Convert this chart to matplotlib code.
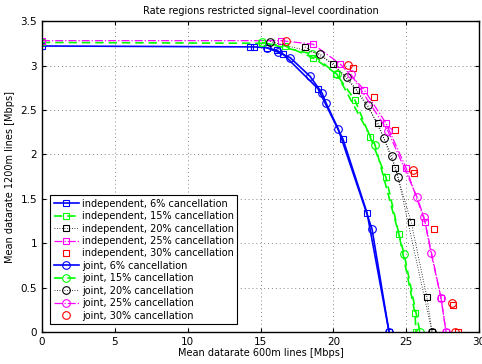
import matplotlib
matplotlib.use("Agg")
import matplotlib.pyplot as plt

# independent coordination (squares)
ind6_x = [0, 14.28, 14.55, 15.44, 16.13, 16.54, 18.94, 20.66, 22.31, 23.82]
ind6_y = [3.22, 3.21, 3.21, 3.20, 3.17, 3.13, 2.74, 2.17, 1.34, 0]
ind15_x = [0, 15.10, 16.68, 18.60, 20.18, 21.48, 22.51, 23.61, 24.50, 25.60, 25.67]
ind15_y = [3.26, 3.25, 3.22, 3.09, 2.91, 2.61, 2.20, 1.74, 1.10, 0.21, 0]
ind20_x = [18.05, 20.0, 21.55, 23.06, 24.23, 25.33, 26.42, 26.77]
ind20_y = [3.21, 3.02, 2.73, 2.35, 1.85, 1.24, 0.39, 0]
ind25_x = [0, 16.40, 18.60, 20.45, 22.10, 23.61, 24.98, 26.29, 27.39, 27.73]
ind25_y = [3.28, 3.28, 3.24, 3.02, 2.73, 2.35, 1.85, 1.24, 0.38, 0]
ind30_x = [21.35, 22.79, 24.23, 25.53, 26.90, 28.21, 28.55]
ind30_y = [2.97, 2.65, 2.27, 1.79, 1.16, 0.30, 0]

# joint coordination (circles)
jnt6_x = [15.44, 16.20, 17.02, 18.39, 19.22, 19.49, 20.32, 22.65, 23.82]
jnt6_y = [3.20, 3.15, 3.09, 2.88, 2.69, 2.58, 2.29, 1.16, 0]
jnt15_x = [15.10, 18.53, 20.25, 22.85, 24.85, 25.94]
jnt15_y = [3.26, 3.13, 2.90, 2.11, 0.88, 0]
jnt20_x = [15.65, 19.08, 20.93, 22.37, 23.47, 24.02, 24.43, 26.77]
jnt20_y = [3.27, 3.13, 2.87, 2.55, 2.18, 1.98, 1.75, 0]
jnt25_x = [21.21, 23.75, 25.74, 26.22, 26.70, 27.39, 27.73]
jnt25_y = [2.90, 2.26, 1.52, 1.29, 0.89, 0.38, 0]
jnt30_x = [16.75, 21.0, 25.46, 28.14, 28.35]
jnt30_y = [3.28, 3.01, 1.82, 0.33, 0]

labels_ind = ["independent, 6% cancellation", "independent, 15% cancellation",
              "independent, 20% cancellation", "independent, 25% cancellation",
              "independent, 30% cancellation"]
labels_jnt = ["joint, 6% cancellation", "joint, 15% cancellation",
              "joint, 20% cancellation", "joint, 25% cancellation",
              "joint, 30% cancellation"]

colors = ["#0000ff", "#00ff00", "#000000", "#ff00ff", "#ff0000"]
styles = ["-", (0, (5, 3)), (0, (1, 2)), "-.", "none"]
widths = [1.2, 1.2, 0.6, 0.9, 0]

ind = [(ind6_x, ind6_y), (ind15_x, ind15_y), (ind20_x, ind20_y), (ind25_x, ind25_y), (ind30_x, ind30_y)]
jnt = [(jnt6_x, jnt6_y), (jnt15_x, jnt15_y), (jnt20_x, jnt20_y), (jnt25_x, jnt25_y), (jnt30_x, jnt30_y)]

fig = plt.figure(figsize=(4.82, 3.64), dpi=100)
ax = fig.add_axes([0.087, 0.088, 0.907, 0.854])

for (x, y), c, ls, lw, lab in zip(ind, colors, styles, widths, labels_ind):
    ax.plot(x, y, color=c, linestyle=ls, linewidth=lw, marker="s", markersize=5,
            markerfacecolor="none", markeredgecolor=c, markeredgewidth=0.8, label=lab)
for (x, y), c, ls, lw, lab in zip(jnt, colors, styles, widths, labels_jnt):
    ax.plot(x, y, color=c, linestyle=ls, linewidth=lw, marker="o", markersize=5.5,
            markerfacecolor="none", markeredgecolor=c, markeredgewidth=0.8, label=lab)

ax.set_xlim(0, 30)
ax.set_ylim(0, 3.5)
ax.set_xticks(range(0, 31, 5))
ax.set_yticks([0, 0.5, 1, 1.5, 2, 2.5, 3, 3.5])
ax.set_yticklabels(["0", "0.5", "1", "1.5", "2", "2.5", "3", "3.5"])
ax.tick_params(labelsize=7.5, direction="in", length=3, top=True, right=True)
ax.grid(True, linestyle=(0, (1, 3)), color="#888888", linewidth=0.7)
for s in ax.spines.values():
    s.set_linewidth(1.0)

ax.set_title("Rate regions restricted signal\u2013level coordination", fontsize=7, pad=5)
ax.set_xlabel("Mean datarate 600m lines [Mbps]", fontsize=7, labelpad=1)
ax.set_ylabel("Mean datarate 1200m lines [Mbps]", fontsize=7, labelpad=4)

leg = ax.legend(loc="lower left", fontsize=7, numpoints=1, handlelength=2.6,
                labelspacing=0.25, borderpad=0.35, handletextpad=0.3,
                fancybox=False, framealpha=1, edgecolor="black",
                bbox_to_anchor=(0.008, 0.01))
leg.get_frame().set_linewidth(0.8)

fig.savefig("out.png", dpi=100)
